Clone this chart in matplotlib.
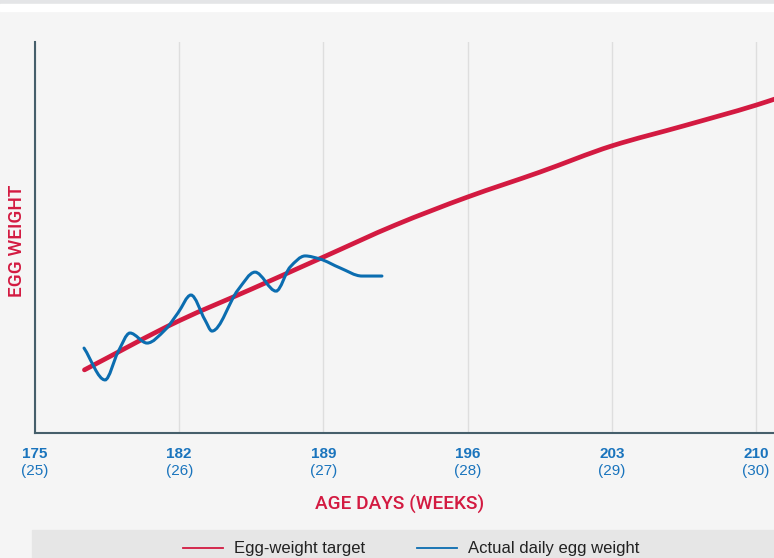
import numpy as np
import matplotlib
matplotlib.use('Agg')
import matplotlib.pyplot as plt
from matplotlib.path import Path
from matplotlib.patches import PathPatch, Rectangle
from matplotlib.lines import Line2D

plt.rcParams['font.family'] = ['Liberation Sans', 'DejaVu Sans']

# colours
red = '#d31a41'
blue = '#0b6db0'
tick_blue = '#1a74bd'
bg = '#f5f5f5'

font_axlabel = {'family': ['Roboto', 'Liberation Sans'], 'weight': 'medium', 'size': 13.7, 'color': red}
font_legend = {'family': 'Liberation Sans', 'weight': 'normal', 'size': 12}

# ---------- data ----------
tick_days = [175, 182, 189, 196, 203, 210]
tick_weeks = ['(25)', '(26)', '(27)', '(28)', '(29)', '(30)']

target_days = [177.4, 182, 185.5, 189, 192.5, 196, 199.5, 203, 206.5, 210, 211]
target_wt = [52.26, 54.02, 55.15, 56.30, 57.45, 58.45, 59.34, 60.28, 61.00, 61.74, 61.98]

actual_days = [177.38, 178.40, 179.03, 179.61, 180.44, 181.31, 181.94, 182.57, 183.25,
               183.59, 184.85, 185.68, 186.70, 187.38, 188.11, 188.83, 189.81, 190.87, 191.84]
actual_wt = [53.04, 51.90, 52.90, 53.58, 53.22, 53.69, 54.30, 54.94, 54.05,
             53.65, 55.12, 55.76, 55.08, 55.94, 56.34, 56.23, 55.91, 55.62, 55.62]


def smooth_path(x, y):
    # monotone cubic (Fritsch-Carlson) as bezier segments
    x = np.asarray(x, float)
    y = np.asarray(y, float)
    h = np.diff(x)
    d = np.diff(y) / h
    m = np.zeros(len(x))
    m[0], m[-1] = d[0], d[-1]
    for i in range(1, len(x) - 1):
        if d[i - 1] * d[i] <= 0:
            m[i] = 0
        else:
            w1 = 2 * h[i] + h[i - 1]
            w2 = h[i] + 2 * h[i - 1]
            m[i] = (w1 + w2) / (w1 / d[i - 1] + w2 / d[i])
    verts = [(x[0], y[0])]
    codes = [Path.MOVETO]
    for i in range(len(x) - 1):
        verts += [(x[i] + h[i] / 3, y[i] + m[i] * h[i] / 3),
                  (x[i + 1] - h[i] / 3, y[i + 1] - m[i + 1] * h[i] / 3),
                  (x[i + 1], y[i + 1])]
        codes += [Path.CURVE4] * 3
    return Path(verts, codes)


fig = plt.figure(num=1, figsize=(7.74, 5.58), dpi=100, facecolor=bg)

# top strip and legend panel
fig.patches.append(Rectangle((0, 1 - 4 / 558), 1, 4 / 558, transform=fig.transFigure,
                             color='#e4e5e7', zorder=0))
fig.patches.append(Rectangle((0, 1 - 11 / 558), 1, 7 / 558, transform=fig.transFigure,
                             color='white', zorder=0))
fig.patches.append(Rectangle((32 / 774, 0), 1, 28 / 558, transform=fig.transFigure,
                             color='#e6e6e6', zorder=0))

ax = fig.add_axes([35 / 774, 125 / 558, 739 / 774, 391 / 558])
ax.set_facecolor(bg)

ax.add_patch(PathPatch(smooth_path(target_days, target_wt), facecolor='none',
                       edgecolor=red, linewidth=3.4, capstyle='round', zorder=3))
ax.add_patch(PathPatch(smooth_path(actual_days, actual_wt), facecolor='none',
                       edgecolor=blue, linewidth=2.2, capstyle='round', zorder=4))

ax.set_xlim(175, 210.87)
ax.set_ylim(50, 64)

ax.set_xticks(tick_days)
ax.set_xticklabels([])
ax.set_yticks([])
ax.tick_params(axis='x', length=0)
ax.grid(axis='x', color='#dedede', linewidth=1)
ax.set_axisbelow(True)

for s in ['top', 'right']:
    ax.spines[s].set_visible(False)
for s in ['left', 'bottom']:
    ax.spines[s].set_color('#465f6b')
    ax.spines[s].set_linewidth(1.5)
    ax.spines[s].set_zorder(5)

# two-line tick labels: day (bold) and week
for d, w in zip(tick_days, tick_weeks):
    ax.annotate(str(d), xy=(d, 0), xycoords=('data', 'axes fraction'),
                xytext=(0, -15), textcoords='offset points', ha='center', va='center',
                fontsize=11, fontweight='bold', color=tick_blue, annotation_clip=False)
    ax.annotate(w, xy=(d, 0), xycoords=('data', 'axes fraction'),
                xytext=(0, -27.5), textcoords='offset points', ha='center', va='center',
                fontsize=11, color=tick_blue, annotation_clip=False)

fig.text(400 / 774, 1 - 504 / 558, 'AGE DAYS (WEEKS)', ha='center', va='center', fontdict=font_axlabel)
fig.text(17 / 774, 1 - 241 / 558, 'EGG WEIGHT', ha='center', va='center', rotation=90,
         fontdict=font_axlabel)

handles = [Line2D([], [], color=red, linewidth=1.3),
           Line2D([], [], color=blue, linewidth=1.3)]
fig.legend(handles, ['Egg-weight target', 'Actual daily egg weight'], loc='center',
           bbox_to_anchor=(411 / 774, 1 - 549 / 558), ncol=2, frameon=False,
           prop=font_legend, handlelength=2.4, handletextpad=0.65, columnspacing=3.1,
           labelcolor='#222222')

plt.savefig('out.png', dpi=100, facecolor=bg)
print("plot success!")
